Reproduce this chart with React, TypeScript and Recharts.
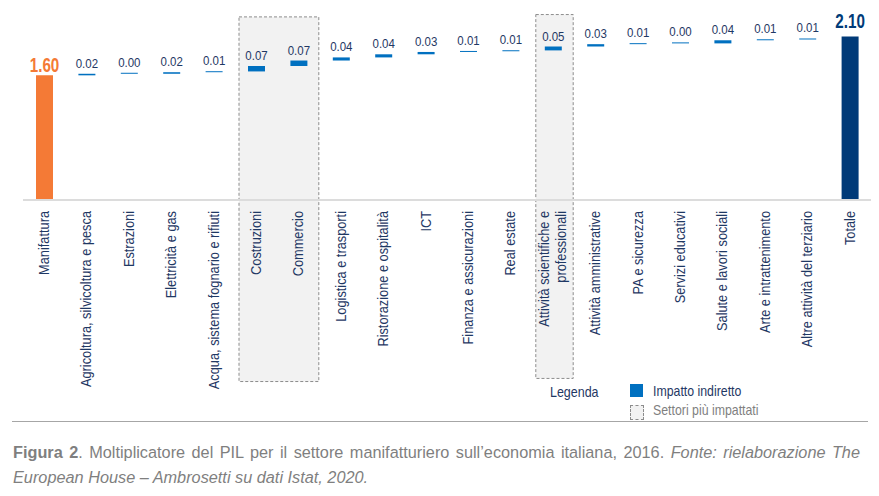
import { BarChart, Bar, XAxis, YAxis, Cell, LabelList, ReferenceArea } from "recharts";

// the source uses a narrow Arial; emulate with Liberation Sans squeezed horizontally
const SANS = "'Liberation Sans', Arial, sans-serif";

const sectors = [
  "Manifattura",
  "Agricoltura, silvicoltura e pesca",
  "Estrazioni",
  "Elettricità e gas",
  "Acqua, sistema fognario e rifiuti",
  "Costruzioni",
  "Commercio",
  "Logistica e trasporti",
  "Ristorazione e ospitalità",
  "ICT",
  "Finanza e assicurazioni",
  "Real estate",
  "Attività scientifiche e professionali",
  "Attività amministrative",
  "PA e sicurezza",
  "Servizi educativi",
  "Salute e lavori sociali",
  "Arte e intrattenimento",
  "Altre attività del terziario",
  "Totale",
];

const impact = [
  1.6, 0.02, 0.0, 0.02, 0.01, 0.07, 0.07, 0.04, 0.04, 0.03,
  0.01, 0.01, 0.05, 0.03, 0.01, 0.0, 0.04, 0.01, 0.01, 2.1,
];

const highlightGroups = [
  ["Costruzioni", "Commercio"],
  ["Attività scientifiche e professionali"],
];

const ORANGE = "#F47A36";
const NAVY = "#003A78";
const BLUE = "#0070C0";
const TEXT = "#1F3864";
const GREY = "#7F7F7F";

const last = sectors.length - 1;

// waterfall: each indirect sector floats on the running total
let running = 0;
const data = sectors.map((name, i) => {
  const base = i === 0 || i === last ? 0 : running;
  if (i !== last) running += impact[i];
  return { name, base, value: impact[i] };
});

const barColor = (i: number) => (i === 0 ? ORANGE : i === last ? NAVY : BLUE);

function SectorTick(props: any) {
  const { x, y, payload } = props;
  const label: string = payload.value;
  let lines = [label];
  if (label.length > 34) {
    const cut = label.lastIndexOf(" ", 24);
    lines = [label.slice(0, cut), label.slice(cut + 1)];
  }
  const step = 17;
  return (
    <g transform={`translate(${x},${y})`}>
      {lines.map((l, i) => (
        <text
          key={i}
          transform={`rotate(-90) translate(-11,${(i - (lines.length - 1) / 2) * step}) scale(0.9,1)`}
          textAnchor="end"
          dominantBaseline="central"
          fill={TEXT}
          fontSize={14.2}
          fontFamily={SANS}
        >
          {l}
        </text>
      ))}
    </g>
  );
}

function ValueLabel(props: any) {
  const { x, y, width, index } = props;
  const cx = x + width / 2;
  const txt = impact[index].toFixed(2);
  const big = index === 0 || index === last;
  const ty = y - (index === 0 ? 3 : index === last ? 8 : 6);
  return (
    <text
      transform={`translate(${cx},${ty}) scale(${big ? 0.78 : 0.87},1)`}
      textAnchor="middle"
      fill={index === 0 ? ORANGE : index === last ? NAVY : TEXT}
      fontSize={big ? 19.5 : 13.2}
      fontWeight={big ? "bold" : "normal"}
      fontFamily={SANS}
    >
      {txt}
    </text>
  );
}

// dashed box slightly narrower than the category bands
function HighlightBox(props: any) {
  const { x, y, width, height } = props;
  return (
    <rect x={x + 4} y={y} width={width - 5} height={height}
      fill="#F2F2F2" stroke="#8C8C8C" strokeDasharray="3 2" strokeWidth={1} />
  );
}

const narrowText = (squeeze: number, extra: any) => ({
  position: "absolute" as const,
  fontFamily: SANS,
  transform: `scaleX(${squeeze})`,
  transformOrigin: "0 0",
  whiteSpace: "nowrap" as const,
  ...extra,
});

export default function App() {
  return (
    <div style={{ position: "absolute", left: 0, top: 0, width: 879, height: 496, background: "#fff", overflow: "hidden" }}>
      <BarChart
        width={879}
        height={496}
        data={data}
        margin={{ top: 13, right: 8, bottom: 96, left: 23 }}
        barSize={17}
      >
        <YAxis hide domain={[0, 2.4]} />
        {highlightGroups.map((g, i) => (
          <ReferenceArea
            key={i}
            x1={g[0]}
            x2={g[g.length - 1]}
            y1={i === 0 ? -2.33 : -2.29}
            y2={i === 0 ? 2.35 : 2.38}
            ifOverflow="visible"
            shape={<HighlightBox />}
          />
        ))}
        <XAxis
          dataKey="name"
          height={200}
          interval={0}
          tickLine={false}
          tickSize={0}
          tickMargin={0}
          axisLine={{ stroke: "#DCDCDC", strokeWidth: 2 }}
          tick={<SectorTick />}
        />
        <Bar dataKey="base" stackId="w" fill="transparent" isAnimationActive={false} />
        <Bar dataKey="value" stackId="w" minPointSize={1} isAnimationActive={false}>
          {data.map((_, i) => (
            <Cell key={i} fill={barColor(i)} />
          ))}
          <LabelList dataKey="value" content={<ValueLabel />} />
        </Bar>
      </BarChart>

      {/* legend */}
      <div style={narrowText(0.86, { left: 550, top: 384, fontSize: 14.5, color: TEXT })}>Legenda</div>
      <div style={{ position: "absolute", left: 630, top: 384, width: 13, height: 13, background: BLUE }} />
      <div style={narrowText(0.85, { left: 653, top: 383, fontSize: 14.5, color: TEXT })}>Impatto indiretto</div>
      <div style={{ position: "absolute", left: 630, top: 405, width: 12, height: 13, background: "#F2F2F2", border: "1px dashed #8C8C8C" }} />
      <div style={narrowText(0.85, { left: 653, top: 402, fontSize: 14.5, color: GREY })}>Settori più impattati</div>

      <div style={{ position: "absolute", left: 12, top: 421, width: 856, height: 1, background: "#A6A6A6" }} />

      {/* caption */}
      <div style={narrowText(1, { left: 13, top: 443, width: 847, fontSize: 16.3, color: GREY, textAlign: "justify", textAlignLast: "justify" })}>
        <b>Figura 2</b>. Moltiplicatore del PIL per il settore manifatturiero sull’economia italiana, 2016. <i>Fonte: rielaborazione The</i>
      </div>
      <div style={narrowText(1, { left: 13, top: 468, fontSize: 16.3, color: GREY })}>
        <i>European House – Ambrosetti su dati Istat, 2020.</i>
      </div>
    </div>
  );
}
